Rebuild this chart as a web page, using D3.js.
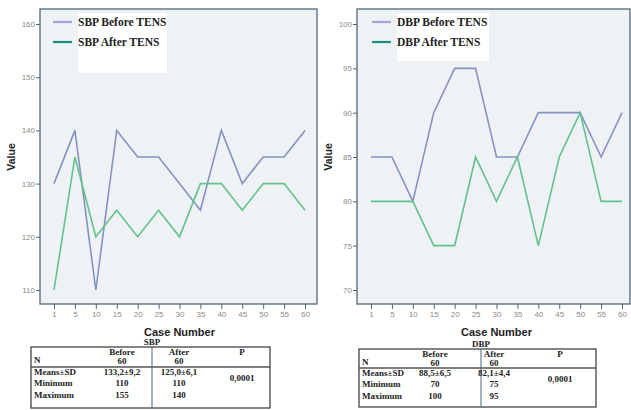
<!DOCTYPE html>
<html><head><meta charset="utf-8">
<script src="https://cdn.jsdelivr.net/npm/d3@7"></script>
<style>body{margin:0;background:#fff}svg{display:block}</style>
</head><body>
<svg id="c" width="631" height="410"></svg>
<script>
const cases = ["1","5","10","15","20","25","30","35","40","45","50","55","60"];
const sbpBefore = [130,140,110,140,135,135,130,125,140,130,135,135,140];
const sbpAfter  = [110,135,120,125,120,125,120,130,130,125,130,130,125];
const dbpBefore = [85,85,80,90,95,95,85,85,90,90,90,85,90];
const dbpAfter  = [80,80,80,75,75,85,80,85,75,85,90,80,80];
const sbpTicks = [110,120,130,140,150,160];
const dbpTicks = [70,75,80,85,90,95,100];
const sbpTable = [["N","60","60"],["Means±SD","133,2±9,2","125,0±6,1"],["Minimum","110","110"],["Maximum","155","140"]];
const dbpTable = [["N","60","60"],["Means±SD","88,5±6,5","82,1±4,4"],["Minimum","70","75"],["Maximum","100","95"]];
const pValue = "0,0001";

const svg = d3.select("#c");
const cBefore = "#8592c2", cAfter = "#62c28c";
const legBefore = "#a3a3dd", legAfter = "#1d8c7e";
const frameCol = "#4f6777";

function chart(o){
  const g = svg.append("g");
  const x = d3.scalePoint().domain(cases).range([o.x0, o.x1]);
  const y = d3.scaleLinear().domain(o.ydom).range(o.yr);
  g.append("rect").attr("x",o.fl).attr("y",o.ft).attr("width",o.fr-o.fl).attr("height",o.fb-o.ft)
    .attr("fill","#eff2f4").attr("stroke",frameCol).attr("stroke-width",1.3);
  const ya = d3.axisLeft(y).tickValues(o.ticks).tickSize(4).tickPadding(1);
  const yg = g.append("g").attr("transform",`translate(${o.fl},0)`).call(ya);
  yg.select(".domain").remove();
  yg.selectAll("line").attr("stroke",frameCol);
  yg.selectAll("text").attr("fill","#8a8a8a").style("font-family","Liberation Sans, Arial").style("font-size","8px");
  const xa = d3.axisBottom(x).tickSize(5).tickPadding(2);
  const xg = g.append("g").attr("transform",`translate(0,${o.fb})`).call(xa);
  xg.select(".domain").remove();
  xg.selectAll("line").attr("stroke",frameCol);
  xg.selectAll("text").attr("fill","#8a8a8a").style("font-family","Liberation Sans, Arial").style("font-size","8px");
  const line = d3.line().x((d,i)=>x(cases[i])).y(d=>y(d));
  g.append("path").datum(o.before).attr("d",line).attr("fill","none").attr("stroke",cBefore).attr("stroke-width",1.6);
  g.append("path").datum(o.after).attr("d",line).attr("fill","none").attr("stroke",cAfter).attr("stroke-width",1.6);
  g.append("rect").attr("x",o.lx+25).attr("y",o.ft+4).attr("width",o.lw).attr("height",o.lh).attr("fill","#fff");
  [[o.names[0],legBefore,0],[o.names[1],legAfter,1]].forEach(([t,c,i])=>{
    const yy = o.ft+13+i*20;
    g.append("line").attr("x1",o.lx).attr("x2",o.lx+19).attr("y1",yy).attr("y2",yy).attr("stroke",c).attr("stroke-width",2.2);
    g.append("text").attr("x",o.lx+25).attr("y",yy+4).text(t)
      .style("font-family","Liberation Serif, Times New Roman").style("font-weight","bold").style("font-size","11.5px").attr("fill","#222");
  });
  g.append("text").attr("transform",`translate(${o.vx},157) rotate(-90)`).attr("text-anchor","middle").text("Value")
    .style("font-family","Liberation Sans, Arial").style("font-weight","bold").style("font-size","10.5px").attr("fill","#222");
  g.append("text").attr("x",(o.x0+o.x1)/2).attr("y",336).attr("text-anchor","middle").text("Case Number")
    .style("font-family","Liberation Sans, Arial").style("font-weight","bold").style("font-size","11px").attr("fill","#222");
  const T = o.tab;
  const tf = s=>s.style("font-family","Liberation Serif, Times New Roman").style("font-weight","bold").style("font-size","9px").attr("fill","#222");
  tf(g.append("text").attr("x",T.vx).attr("y",T.top-2).attr("text-anchor","middle").text(o.title));
  g.append("rect").attr("x",T.l).attr("y",T.top).attr("width",T.r-T.l).attr("height",T.bot-T.top).attr("fill","none").attr("stroke","#444").attr("stroke-width",1.3);
  g.append("line").attr("x1",T.l).attr("x2",T.r).attr("y1",T.hy).attr("y2",T.hy).attr("stroke","#555").attr("stroke-width",1.3);
  g.append("line").attr("x1",T.vx).attr("x2",T.vx).attr("y1",T.top).attr("y2",T.bot).attr("stroke","#4a6a80").attr("stroke-width",1);
  tf(g.append("text").attr("x",T.c1).attr("y",T.top+8).attr("text-anchor","middle").text("Before"));
  tf(g.append("text").attr("x",T.c2).attr("y",T.top+8).attr("text-anchor","middle").text("After"));
  tf(g.append("text").attr("x",T.c3).attr("y",T.top+8).attr("text-anchor","middle").text("P"));
  const rowsY = [T.top+17, T.hy+8, T.hy+19, T.hy+31];
  o.rows.forEach((r,i)=>{
    const yy = rowsY[i];
    tf(g.append("text").attr("x",T.l+3).attr("y",i===0?yy-1:yy).text(r[0]));
    tf(g.append("text").attr("x",T.c1).attr("y",yy).attr("text-anchor","middle").text(r[1]));
    tf(g.append("text").attr("x",T.c2).attr("y",yy).attr("text-anchor","middle").text(r[2]));
  });
  tf(g.append("text").attr("x",T.c3).attr("y",T.hy+14).attr("text-anchor","middle").text(pValue));
}

chart({fl:40,fr:317,ft:9,fb:304,x0:54,x1:305,ydom:[110,160],yr:[290,24],ticks:sbpTicks,
  before:sbpBefore,after:sbpAfter,names:["SBP Before TENS","SBP After TENS"],lx:53,lw:89,lh:60,vx:15,
  title:"SBP",rows:sbpTable,tab:{l:31,r:270,top:347,bot:408,hy:367,vx:152,c1:122,c2:179,c3:242}});
chart({fl:357,fr:630,ft:9,fb:304,x0:371,x1:622,ydom:[70,100],yr:[290,24],ticks:dbpTicks,
  before:dbpBefore,after:dbpAfter,names:["DBP Before TENS","DBP After TENS"],lx:372,lw:92,lh:48,vx:332,
  title:"DBP",rows:dbpTable,tab:{l:359,r:596,top:349,bot:407,hy:368,vx:481,c1:435,c2:494,c3:560}});
</script>
</body></html>
